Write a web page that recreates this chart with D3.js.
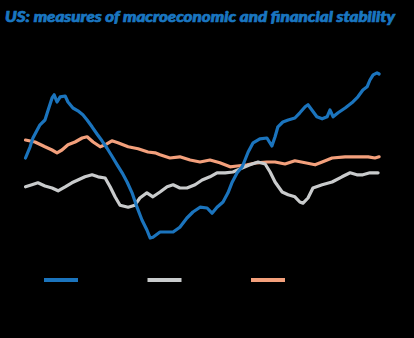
<!DOCTYPE html>
<html><head><meta charset="utf-8">
<script src="https://cdn.jsdelivr.net/npm/d3@7"></script>
<style>html,body{margin:0;padding:0;background:#000;}svg{display:block;}</style>
</head><body>
<div id="chart"></div>
<script>
const title = "US: measures of macroeconomic and financial stability";
const seriesNames = ["Blue measure", "Grey measure", "Orange measure"];
const seriesColors = ["#1b74bd", "#c9cbcc", "#f3a07c"];

// [period, value]
const blueSeries = [[0,1.05],[1.3,1.33],[2.1,1.55],[3.3,1.75],[4.1,1.88],[5.5,2.0],[6.4,2.25],[7.5,2.55],[8.1,2.63],[8.9,2.45],[9.8,2.58],[11.2,2.6],[12.0,2.45],[13.4,2.3],[14.8,2.23],[16.2,2.13],[17.4,2.0],[18.8,1.83],[20.2,1.65],[21.6,1.48],[23.0,1.3],[24.4,1.1],[25.9,0.88],[27.3,0.68],[28.7,0.45],[30.1,0.18],[31.5,-0.18],[32.9,-0.5],[34.3,-0.75],[35.2,-0.95],[36.0,-0.93],[38.0,-0.8],[40.0,-0.8],[41.7,-0.8],[43.6,-0.68],[45.6,-0.45],[47.3,-0.3],[49.3,-0.18],[51.3,-0.2],[52.7,-0.33],[54.1,-0.18],[55.8,-0.05],[57.2,0.18],[58.3,0.43],[59.8,0.68],[61.2,0.83],[62.0,1.0],[62.9,1.2],[64.3,1.43],[66.2,1.53],[68.2,1.55],[69.6,1.35],[70.5,1.58],[71.3,1.83],[72.7,1.95],[74.2,2.0],[76.1,2.05],[77.5,2.18],[79.0,2.33],[79.8,2.38],[80.9,2.25],[82.3,2.08],[83.8,2.03],[85.2,2.08],[86.0,2.25],[86.9,2.08],[88.3,2.18],[90.3,2.3],[92.2,2.43],[93.9,2.58],[95.3,2.75],[96.5,2.83],[97.3,3.0],[98.2,3.13],[99.3,3.18],[99.9,3.15]];

const greySeries = [[0,0.33],[1.8,0.38],[3.5,0.43],[5.5,0.35],[7.5,0.3],[9.2,0.23],[11.2,0.33],[13.1,0.43],[14.8,0.5],[16.8,0.58],[18.8,0.63],[20.5,0.58],[22.5,0.55],[23.9,0.33],[25.3,0.08],[26.7,-0.13],[29.0,-0.18],[30.9,-0.13],[32.3,0.05],[34.3,0.18],[36.0,0.08],[38.0,0.2],[40.0,0.33],[41.7,0.38],[43.6,0.3],[45.6,0.3],[47.9,0.38],[49.9,0.5],[52.1,0.58],[54.1,0.68],[56.4,0.68],[58.6,0.7],[61.2,0.8],[63.4,0.88],[65.7,0.95],[67.7,0.9],[69.1,0.7],[70.5,0.45],[72.5,0.2],[74.2,0.13],[76.1,0.08],[77.5,-0.05],[78.4,-0.08],[79.8,0.05],[81.2,0.3],[83.8,0.38],[86.6,0.45],[89.4,0.58],[91.7,0.68],[93.6,0.63],[95.3,0.63],[97.3,0.68],[99.6,0.68]];

const orangeSeries = [[0,1.5],[2.7,1.45],[5.5,1.33],[7.5,1.25],[8.9,1.18],[10.3,1.25],[12.0,1.38],[14.0,1.45],[16.0,1.55],[17.4,1.58],[19.1,1.45],[21.1,1.33],[22.5,1.38],[24.4,1.48],[26.1,1.43],[29.0,1.33],[31.8,1.28],[34.6,1.2],[36.6,1.18],[38.0,1.13],[40.8,1.05],[43.6,1.08],[46.5,1.0],[49.3,0.95],[52.1,1.0],[54.9,0.93],[57.8,0.83],[59.8,0.85],[62.6,0.88],[65.4,0.93],[68.2,0.95],[70.5,0.95],[73.3,0.9],[76.1,0.98],[79.0,0.93],[81.8,0.88],[83.8,0.95],[86.6,1.05],[90.3,1.08],[93.9,1.08],[96.8,1.08],[98.7,1.05],[99.9,1.08]];

const allSeries = [blueSeries, greySeries, orangeSeries];

const W = 414, H = 338;
const svg = d3.select("#chart").append("svg").attr("width", W).attr("height", H);
svg.append("rect").attr("width", W).attr("height", H).attr("fill", "#000");

svg.append("text").attr("x", 5).attr("y", 22)
  .attr("font-family", "Lato, sans-serif").attr("font-weight", 900).attr("font-style", "italic")
  .attr("font-size", 14.5).attr("fill", "#1a76c0")
  .attr("stroke", "#1a76c0").attr("stroke-width", 0.7)
  .attr("textLength", 390).attr("lengthAdjust", "spacingAndGlyphs")
  .text(title);

const x = d3.scaleLinear().domain([0, 100]).range([25.5, 379.5]);
const y = d3.scaleLinear().domain([-1.5, 3.5]).range([260, 60]);
const line = d3.line().x(d => x(d[0])).y(d => y(d[1]));

const order = [2, 1, 0];
order.forEach(i => {
  svg.append("path").datum(allSeries[i]).attr("d", line)
    .attr("fill", "none").attr("stroke", seriesColors[i])
    .attr("stroke-width", 3.2).attr("stroke-linejoin", "round").attr("stroke-linecap", "round");
});

// legend
const legendX = d3.scalePoint().domain(seriesNames).range([44, 251]);
const lg = svg.append("g");
seriesNames.forEach((n, i) => {
  lg.append("line").attr("x1", legendX(n)).attr("x2", legendX(n) + 34)
    .attr("y1", 280).attr("y2", 280)
    .attr("stroke", seriesColors[i]).attr("stroke-width", 4);
});
</script>
</body></html>
